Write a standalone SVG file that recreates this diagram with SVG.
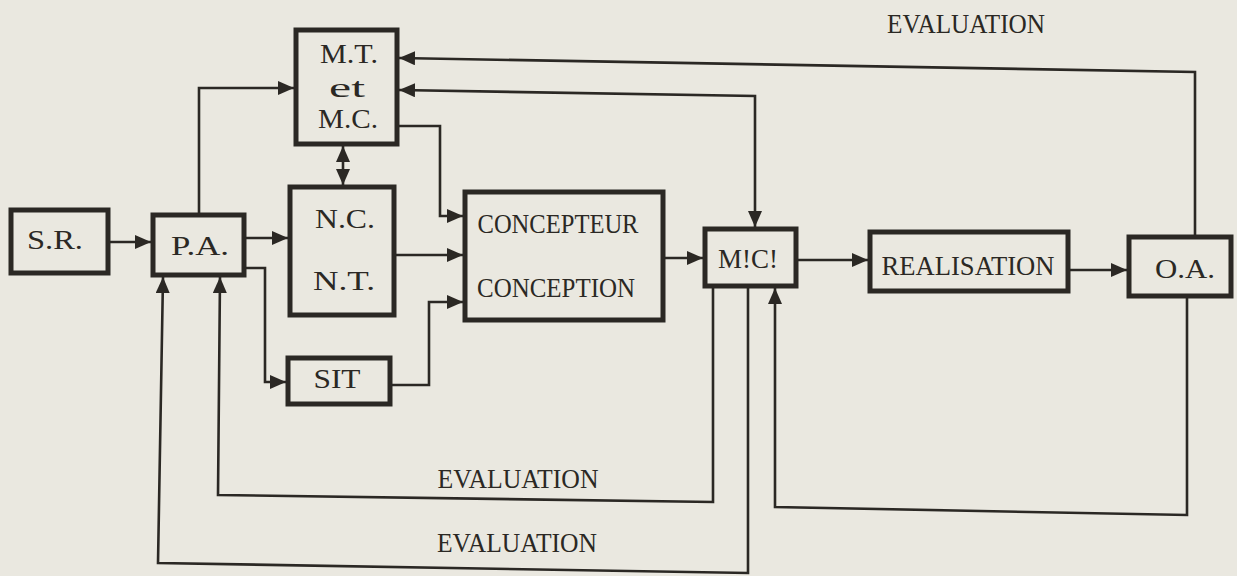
<svg xmlns="http://www.w3.org/2000/svg" width="1237" height="576" viewBox="0 0 1237 576">
<defs>
<marker id="ah" markerUnits="userSpaceOnUse" markerWidth="17" markerHeight="15" refX="16" refY="7" orient="auto-start-reverse">
<path d="M0,0 L16,7 L0,14 Z" fill="#2b2824"/>
</marker>
<style>
.box{fill:none;stroke:#2b2824;stroke-width:5;stroke-linejoin:miter}
.ln{fill:none;stroke:#2b2824;stroke-width:2.6;stroke-linejoin:miter}
.ar{marker-end:url(#ah)}
.ar2{marker-start:url(#ah);marker-end:url(#ah)}
.t{font-family:"Liberation Serif","Times New Roman",serif;font-size:28px;fill:#2b2824;text-anchor:middle}
</style>
</defs>
<rect width="1237" height="576" fill="#eae8e0"/>
<g id="connectors">
<path class="ln ar" d="M110,242 H151"/>
<path class="ln ar" d="M199,215 V88 H294"/>
<path class="ln ar" d="M246,238 H288"/>
<path class="ln ar" d="M246,268 H265 V382 H286"/>
<path class="ln ar2" d="M343,146 V185"/>
<path class="ln ar" d="M399,126 H440 V216 H463"/>
<path class="ln ar" d="M394,255 H463"/>
<path class="ln ar" d="M390,385 H429 V302 H463"/>
<path class="ln ar" d="M663,258 H703"/>
<path class="ln ar" d="M796,260 H868"/>
<path class="ln ar" d="M1068,270 H1127"/>
<path class="ln ar" d="M1195,235 V72 L399,58"/>
<path class="ln ar2" d="M755,227 V96 L399,90"/>
<path class="ln ar" d="M713,288 V502 L218,495 L220,277"/>
<path class="ln ar" d="M748,288 V573 L158,563 L163,277"/>
<path class="ln ar" d="M1187,298 V515 L775,507 V288"/>
</g>
<g id="SR"><rect class="box" x="11" y="210" width="97" height="63"/><text class="t" x="55" y="249" textLength="56" lengthAdjust="spacingAndGlyphs">S.R.</text></g>
<g id="PA"><rect class="box" x="153" y="215" width="91" height="60"/><text class="t" x="200" y="255" textLength="58" lengthAdjust="spacingAndGlyphs">P.A.</text></g>
<g id="MTMC"><rect class="box" x="296" y="30" width="101" height="114"/>
<text class="t" x="349" y="63" textLength="58" lengthAdjust="spacingAndGlyphs">M.T.</text>
<text class="t" x="347" y="97" textLength="36" lengthAdjust="spacingAndGlyphs">et</text>
<text class="t" x="348" y="128" textLength="60" lengthAdjust="spacingAndGlyphs">M.C.</text></g>
<g id="NCNT"><rect class="box" x="290" y="187" width="104" height="128"/>
<text class="t" x="345" y="228" textLength="60" lengthAdjust="spacingAndGlyphs">N.C.</text>
<text class="t" x="344" y="290" textLength="62" lengthAdjust="spacingAndGlyphs">N.T.</text></g>
<g id="SIT"><rect class="box" x="288" y="358" width="102" height="46"/><text class="t" x="337" y="388" textLength="47" lengthAdjust="spacingAndGlyphs">SIT</text></g>
<g id="CONC"><rect class="box" x="465" y="192" width="198" height="128"/>
<text class="t" x="558" y="233" textLength="161" lengthAdjust="spacingAndGlyphs">CONCEPTEUR</text>
<text class="t" x="556" y="297" textLength="158" lengthAdjust="spacingAndGlyphs">CONCEPTION</text></g>
<g id="MC"><rect class="box" x="705" y="229" width="91" height="57"/><text class="t" x="748" y="268" textLength="60" lengthAdjust="spacingAndGlyphs">M!C!</text></g>
<g id="REAL"><rect class="box" x="870" y="232" width="198" height="59"/><text class="t" x="968" y="275" textLength="173" lengthAdjust="spacingAndGlyphs">REALISATION</text></g>
<g id="OA"><rect class="box" x="1129" y="237" width="102" height="59"/><text class="t" x="1185" y="278" textLength="60" lengthAdjust="spacingAndGlyphs">O.A.</text></g>
<g id="labels">
<text class="t" x="966" y="33" textLength="158" lengthAdjust="spacingAndGlyphs">EVALUATION</text>
<text class="t" x="518" y="488" textLength="161" lengthAdjust="spacingAndGlyphs">EVALUATION</text>
<text class="t" x="517" y="552" textLength="160" lengthAdjust="spacingAndGlyphs">EVALUATION</text>
</g>
</svg>
